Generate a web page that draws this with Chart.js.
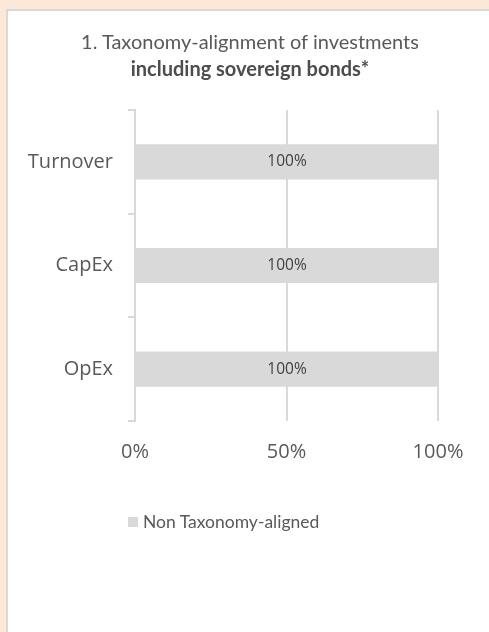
<!DOCTYPE html>
<html>
<head>
<meta charset="utf-8">
<script src="https://cdn.jsdelivr.net/npm/chart.js@4"></script>
<style>
  html, body { margin: 0; padding: 0; background: #fbe8d8; overflow: hidden; }
  #panel { position: absolute; left: 6px; top: 9px; width: 540px; height: 700px; background: #fff;
           border-left: 2px solid #d9d9d9; border-top: 2px solid #d9d9d9; }
  #wrap { position: absolute; left: 0; top: 0; width: 489px; height: 632px; }
  #title { position: absolute; left: 0; top: 27.5px; width: 500px; text-align: center;
           font-family: 'Lato', sans-serif; font-size: 20px; line-height: 27px; color: #595959; }
  #title b { color: #4d4d4d; }
  #legend { position: absolute; left: 128px; top: 511px; margin: 0; padding: 0; list-style: none;
            font-family: 'Lato', sans-serif; font-size: 17.5px; line-height: 22px; color: #595959; }
  #legend li { display: flex; align-items: center; }
  #legend span.box { display: inline-block; width: 10px; height: 10px; margin-right: 5px; }
</style>
</head>
<body>
<div id="panel"></div>
<div id="wrap"><canvas id="taxoChart" width="489" height="632"></canvas></div>
<div id="title">1. Taxonomy-alignment of investments<br><b>including sovereign bonds*</b></div>
<ul id="legend"></ul>
<script>
const categories = ['Turnover', 'CapEx', 'OpEx'];
const nonAligned = [100, 100, 100];
const xTicks = [0, 50, 100];
const seriesName = 'Non Taxonomy-aligned';

// "100%" in the middle of every bar
const barLabels = {
  id: 'barLabels',
  afterDatasetsDraw(chart) {
    const ctx = chart.ctx;
    ctx.save();
    ctx.font = '15.5px "Open Sans"';
    ctx.fillStyle = '#404040';
    ctx.textAlign = 'center';
    ctx.textBaseline = 'middle';
    chart.getDatasetMeta(0).data.forEach((bar, i) => {
      ctx.fillText(nonAligned[i] + '%', (bar.base + bar.x) / 2, bar.y);
    });
    ctx.restore();
  }
};

// legend as html, built from the chart's own legend items
const htmlLegend = {
  id: 'htmlLegend',
  afterUpdate(chart) {
    const ul = document.getElementById('legend');
    ul.innerHTML = '';
    const items = chart.options.plugins.legend.labels.generateLabels(chart);
    items.forEach(item => {
      const li = document.createElement('li');
      const box = document.createElement('span');
      box.className = 'box';
      box.style.background = item.fillStyle;
      li.appendChild(box);
      li.appendChild(document.createTextNode(item.text));
      ul.appendChild(li);
    });
  }
};

document.addEventListener('DOMContentLoaded', function () {
  const el = document.getElementById('taxoChart');
  new Chart(el, {
    type: 'bar',
    data: {
      labels: categories,
      datasets: [{
        label: seriesName,
        data: nonAligned,
        backgroundColor: '#d9d9d9',
        borderWidth: 0,
        barPercentage: 0.34,
        categoryPercentage: 1
      }]
    },
    options: {
      indexAxis: 'y',
      responsive: false,
      animation: false,
      devicePixelRatio: 1,
      events: [],
      layout: { padding: { left: 20, right: 51, top: 110, bottom: 149 } },
      plugins: {
        legend: { display: false },
        tooltip: { enabled: false }
      },
      scales: {
        x: {
          min: 0,
          max: 100,
          afterBuildTicks(s) { s.ticks = xTicks.map(v => ({ value: v })); },
          grid: { color: '#d9d9d9', lineWidth: 2, drawTicks: false },
          border: { display: false },
          ticks: {
            color: '#595959',
            font: { family: 'Open Sans', size: 20 },
            padding: 19,
            callback: v => v + '%'
          }
        },
        y: {
          afterFit(s) { s.width = 115; },
          grid: { drawOnChartArea: false, drawTicks: true, tickLength: 7, color: '#d9d9d9', lineWidth: 2, offset: true },
          border: { color: '#d9d9d9', width: 2 },
          ticks: {
            color: '#595959',
            font: { family: 'Open Sans', size: 20 },
            padding: 15
          }
        }
      }
    },
    plugins: [barLabels, htmlLegend]
  });
});
</script>
</body>
</html>
